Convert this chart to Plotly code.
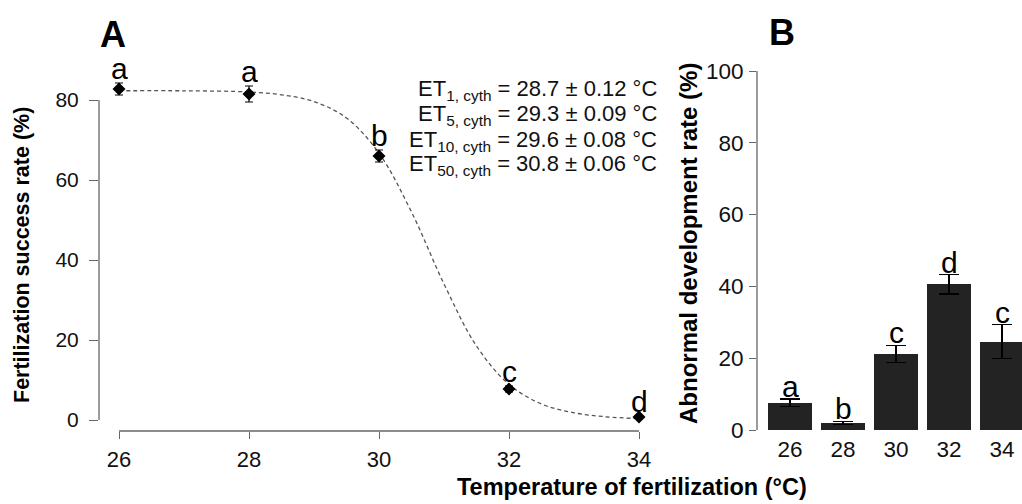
import plotly.graph_objects as go

# ---------------- data ----------------
temps = [26, 28, 30, 32, 34]
fert_rate = [82.75, 81.5, 66.0, 7.75, 0.75]
fert_err = [1.5, 2.0, 1.5, 0.7, 0.3]
fert_letters = ["a", "a", "b", "c", "d"]

curve_temp = [26, 27, 28, 28.5, 29, 29.5, 30, 30.5, 31, 31.5, 32, 32.5, 33, 33.5, 34]
curve_rate = [82.3, 82.3, 82.0, 81.3, 79.6, 75.5, 66.7, 52.0, 34.0, 18.5, 8.9, 4.0, 1.8, 0.8, 0.35]

et_levels = ["1", "5", "10", "50"]
et_values = [28.7, 29.3, 29.6, 30.8]
et_se = [0.12, 0.09, 0.08, 0.06]

abn_rate = [7.6, 2.0, 21.2, 40.6, 24.6]
abn_err = [1.0, 0.4, 2.4, 2.7, 4.7]
abn_letters = ["a", "b", "c", "d", "c"]

yticks_A = [0, 20, 40, 60, 80]
yticks_B = [0, 20, 40, 60, 80, 100]

# ---------------- layout helpers ----------------
W, H = 1022, 504
FONT = "Liberation Sans, Arial, sans-serif"
AXC = "#666666"
TXT = "#111111"

def px(x):
    return x / W

def py(y):
    return 1 - y / H

fig = go.Figure()

# Panel A: fitted curve
fig.add_trace(go.Scatter(
    x=curve_temp, y=curve_rate, mode="lines",
    line=dict(color="#555555", width=1.3, dash="4px,3px", shape="spline"),
    xaxis="x", yaxis="y", hoverinfo="skip", showlegend=False, cliponaxis=False))

# Panel A: observed points
fig.add_trace(go.Scatter(
    x=temps, y=fert_rate, mode="markers",
    marker=dict(symbol="diamond", size=10, color="black"),
    error_y=dict(type="data", array=fert_err, color="black", thickness=1.2, width=4),
    xaxis="x", yaxis="y", showlegend=False, cliponaxis=False))

# Panel B: bars
fig.add_trace(go.Bar(
    x=temps, y=abn_rate, width=1.66,
    marker=dict(color="#232323", line=dict(width=0)),
    error_y=dict(type="data", array=abn_err, color="black", thickness=1.3, width=10),
    xaxis="x2", yaxis="y2", showlegend=False, cliponaxis=False))

annotations = []
# letters panel A
for t, v, e, l in zip(temps, fert_rate, fert_err, fert_letters):
    annotations.append(dict(x=t, y=v + e, xref="x", yref="y", text=l, showarrow=False,
                            xanchor="center", yanchor="bottom", yshift=-4,
                            font=dict(family=FONT, size=30, color="black")))
# letters panel B
for t, v, e, l in zip(temps, abn_rate, abn_err, abn_letters):
    annotations.append(dict(x=t, y=v + e, xref="x2", yref="y2", text=l, showarrow=False,
                            xanchor="center", yanchor="bottom", yshift=-6,
                            font=dict(family=FONT, size=30, color="black")))
# ET annotations
et_y = [90, 115.5, 140.5, 165.5]
for lev, val, se, yy in zip(et_levels, et_values, et_se, et_y):
    annotations.append(dict(x=px(659), y=py(yy), xref="paper", yref="paper",
                            text=f"ET<sub>{lev}, cyth</sub> = {val:.1f} ± {se:.2f} °C",
                            showarrow=False, xanchor="right", yanchor="middle",
                            font=dict(family=FONT, size=22, color=TXT)))
# panel labels
annotations.append(dict(x=px(113), y=py(35), xref="paper", yref="paper", text="<b>A</b>",
                        showarrow=False, xanchor="center", yanchor="middle",
                        font=dict(family=FONT, size=36, color="black")))
annotations.append(dict(x=px(782), y=py(32), xref="paper", yref="paper", text="<b>B</b>",
                        showarrow=False, xanchor="center", yanchor="middle",
                        font=dict(family=FONT, size=36, color="black")))
# axis titles
annotations.append(dict(x=px(22), y=py(255), xref="paper", yref="paper",
                        text="<b>Fertilization success rate (%)</b>", textangle=-90,
                        showarrow=False, xanchor="center", yanchor="middle",
                        font=dict(family=FONT, size=21.5, color="black")))
annotations.append(dict(x=px(688), y=py(244), xref="paper", yref="paper",
                        text="<b>Abnormal development rate (%)</b>", textangle=-90,
                        showarrow=False, xanchor="center", yanchor="middle",
                        font=dict(family=FONT, size=24, color="black")))
annotations.append(dict(x=px(632), y=py(487), xref="paper", yref="paper",
                        text="<b>Temperature of fertilization (°C)</b>",
                        showarrow=False, xanchor="center", yanchor="middle",
                        font=dict(family=FONT, size=23.5, color="black")))

shapes = [
    # panel A y axis line (0-80)
    dict(type="line", xref="x domain", yref="y", x0=0, x1=0, y0=yticks_A[0], y1=yticks_A[-1],
         line=dict(color=AXC, width=1.3)),
    # panel A x axis line (26-34)
    dict(type="line", xref="x", yref="y domain", x0=temps[0], x1=temps[-1], y0=0, y1=0,
         line=dict(color=AXC, width=1.3)),
    # panel B y axis line (0-100)
    dict(type="line", xref="x2 domain", yref="y2", x0=0, x1=0, y0=yticks_B[0], y1=yticks_B[-1],
         line=dict(color=AXC, width=1.3)),
]

tickfontA = dict(family=FONT, size=21, color=TXT)
tickfontAx = dict(family=FONT, size=22, color=TXT)
tickfontB = dict(family=FONT, size=22.5, color=TXT)

fig.update_layout(
    width=W, height=H,
    margin=dict(l=0, r=0, t=0, b=0, pad=0),
    paper_bgcolor="white", plot_bgcolor="white",
    showlegend=False,
    bargap=0,
    xaxis=dict(domain=[px(99), px(660)], range=[26 - 20 / 65, 34 + 21 / 65], anchor="y",
               tickvals=temps, ticktext=[str(t) for t in temps],
               ticks="outside", ticklen=7, tickwidth=1.3, tickcolor=AXC,
               showline=False, showgrid=False, zeroline=False, tickfont=tickfontAx,
               ticklabelstandoff=2, automargin=False, fixedrange=True),
    yaxis=dict(domain=[py(431), py(60)], range=[-2.75, 90], anchor="x",
               tickvals=yticks_A, ticktext=[str(v) for v in yticks_A],
               ticks="outside", ticklen=9, tickwidth=1.3, tickcolor=AXC,
               showline=False, showgrid=False, zeroline=False, tickfont=tickfontA,
               ticklabelstandoff=6, automargin=False, fixedrange=True),
    xaxis2=dict(domain=[px(757), 1.0], range=[26 - 33 / 26.5, 26 + 232 / 26.5], anchor="y2",
                tickvals=temps, ticktext=[str(t) for t in temps],
                ticks="", showline=False, showgrid=False, zeroline=False, tickfont=tickfontB,
                ticklabelstandoff=3, automargin=False, fixedrange=True),
    yaxis2=dict(domain=[py(430), py(60)], range=[0, (430 - 60) / 3.59], anchor="x2",
                tickvals=yticks_B, ticktext=[str(v) for v in yticks_B],
                ticks="outside", ticklen=7, tickwidth=1.3, tickcolor=AXC,
                showline=False, showgrid=False, zeroline=False, tickfont=tickfontB,
                ticklabelstandoff=1, automargin=False, fixedrange=True),
    annotations=annotations,
    shapes=shapes,
)

fig.write_html("out.html", config={"displayModeBar": False},
               post_script="document.body.style.margin='0';document.body.style.overflow='hidden';")
